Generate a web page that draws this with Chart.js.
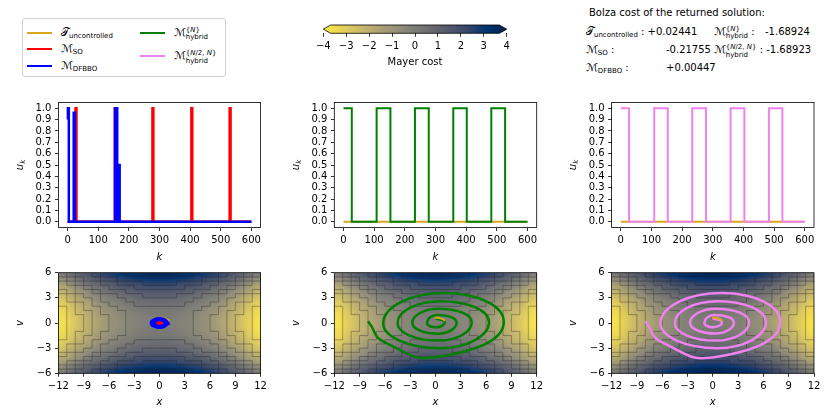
<!DOCTYPE html>
<html>
<head>
<meta charset="utf-8">
<title>Controls and phase trajectories</title>
<script src="https://cdn.jsdelivr.net/npm/chart.js@4.4.1/dist/chart.umd.min.js"></script>
<style>
  html, body { margin: 0; padding: 0; background: #fff; }
  #fig { position: relative; width: 830px; height: 415px; overflow: hidden;
         font-family: 'DejaVu Sans', sans-serif; font-size: 10px; color: #000; }
  #fig canvas { position: absolute; }
  .txt { position: absolute; white-space: nowrap; line-height: 14px; }
  .sym { font-size: 11px; }
  .lo { font-size: 7px; vertical-align: -2px; }
  .stack { display: inline-flex; flex-direction: column; font-size: 7px; line-height: 7.5px; vertical-align: 4px; }
  #legend { position: absolute; left: 22px; top: 18px; width: 202px; height: 57px;
            border: 1px solid #d0d0d0; border-radius: 3px; background: #fff; }
  .swatch { position: absolute; width: 25px; height: 2px; }
</style>
</head>
<body>
<div id="fig"></div>
<script>
// --- Tick labels ---
const kTicks = [0, 100, 200, 300, 400, 500, 600];
const uTicks = [0, 0.1, 0.2, 0.3, 0.4, 0.5, 0.6, 0.7, 0.8, 0.9, 1.0];
const xTicks = [-12, -9, -6, -3, 0, 3, 6, 9, 12];
const vTicks = [-6, -3, 0, 3, 6];
const costTicks = [-4, -3, -2, -1, 0, 1, 2, 3, 4];

// --- Series names and returned Bolza costs ---
const seriesSym = ['\u{1D4AF}', '\u2133', '\u2133', '\u2133', '\u2133'];
const seriesSub = ['uncontrolled', 'SO', 'DFBBO', 'hybrid', 'hybrid'];
const seriesSup = ['', '', '', '{<i>N</i>}', '{<i>N</i>/2, <i>N</i>}'];
const seriesColor = ['#DAA520', '#FF0000', '#0000FF', '#008000', '#EE82EE'];
const bolzaCost = [0.02441, -0.21755, 0.00447, -1.68924, -1.68923];

// --- Control sequences: switching instant k and the value held from it ---
const uncK = [0, 600];
const uncU = [0, 0];
const soK = [0, 26, 29, 154, 157, 277, 280, 404, 407, 529, 532, 600];
const soU = [0, 1, 0, 1, 0, 1, 0, 1, 0, 1, 0, 0];
const dfK = [0, 1, 4, 20, 24, 155, 158, 159, 162, 167, 170, 600];
const dfU = [0.9, 1, 0, 0.96, 0, 1, 0, 1, 0, 0.5, 0, 0];
const hybK = [0, 27, 108, 153, 233, 278, 358, 402, 482, 527, 600];
const hybU = [1, 0, 1, 0, 1, 0, 1, 0, 1, 0, 0];
const hyb2K = [0, 27, 109, 153, 233, 278, 358, 403, 483, 527, 600];
const hyb2U = [1, 0, 1, 0, 1, 0, 1, 0, 1, 0, 0];

// --- Phase-plane trajectories (x, v) ---
const uncX = [-0.1, 0.3, 0.7, 1.0, 1.1];
const uncV = [0.6, 0.62, 0.52, 0.38, 0.22];
const soX = [-0.35, 0.0, 0.3, 0.0, -0.3];
const soV = [0.0, -0.05, 0.0, 0.05, 0.0];
const dfX = [1.2, 0.1, -1.0, 0.1, 0.95, 0.1, -0.75, 0.1, 0.65, 0.05, -0.5, 0.05, 0.35];
const dfV = [0.0, -0.55, 0.0, 0.53, 0.0, -0.42, 0.0, 0.4, 0.0, -0.28, 0.0, 0.26, 0.0];
const hybX = [0.0, 1.1, 0.1, -1.0, 0.2, 2.5, 0.3, -2.75, 0.4, 4.3, 0.4, -4.5, 0.6, 6.35, 0.5, -6.2, 1.1, 8.1, 0.7, -6.0, -8.0];
const hybV = [0.55, 0.1, -0.52, 0.05, 0.95, 0.05, -1.27, 0.05, 1.7, 0.05, -2.1, 0.05, 2.6, 0.05, -3.0, 0.1, 3.58, 0.05, -3.97, -2.3, 0.2];
const hyb2X = [0.0, 1.1, 0.1, -1.0, 0.2, 2.5, 0.3, -2.7, 0.4, 4.3, 0.4, -4.5, 0.6, 6.3, 0.5, -6.2, 1.1, 8.0, 0.7, -6.0, -8.0];
const hyb2V = [0.55, 0.1, -0.5, 0.05, 0.95, 0.05, -1.25, 0.05, 1.7, 0.05, -2.1, 0.05, 2.6, 0.05, -3.0, 0.1, 3.57, 0.05, -4.0, -2.3, 0.2];

// --- Mayer cost map, one quadrant (x >= 0, v >= 0), rows from v = 0.25 up ---
const costXCenters = [0.5, 1.5, 2.5, 3.5, 4.5, 5.5, 6.5, 7.5, 8.5, 9.5, 10.5, 11.5];
const costVCenters = [0.25, 0.75, 1.25, 1.75, 2.25, 2.75, 3.25, 3.75, 4.25, 4.75, 5.25, 5.75];
const costQuadrant = [
    [0.0, -0.1, -0.2, -0.3, -0.6, -0.8, -1.2, -1.6, -2.0, -2.5, -3.1, -3.7],
    [0.1, 0.0, -0.1, -0.3, -0.5, -0.8, -1.1, -1.5, -2.0, -2.5, -3.0, -3.6],
    [0.2, 0.1, 0.0, -0.2, -0.4, -0.7, -1.0, -1.4, -1.8, -2.3, -2.9, -3.5],
    [0.3, 0.3, 0.2, 0.0, -0.2, -0.5, -0.8, -1.2, -1.7, -2.2, -2.7, -3.3],
    [0.6, 0.5, 0.4, 0.2, 0.0, -0.3, -0.6, -1.0, -1.5, -2.0, -2.5, -3.1],
    [0.8, 0.8, 0.7, 0.5, 0.3, 0.0, -0.3, -0.7, -1.2, -1.7, -2.2, -2.8],
    [1.2, 1.1, 1.0, 0.8, 0.6, 0.3, 0.0, -0.4, -0.8, -1.3, -1.9, -2.5],
    [1.6, 1.5, 1.4, 1.2, 1.0, 0.7, 0.4, 0.0, -0.5, -1.0, -1.5, -2.1],
    [2.0, 2.0, 1.8, 1.7, 1.5, 1.2, 0.8, 0.5, 0.0, -0.5, -1.1, -1.7],
    [2.5, 2.5, 2.3, 2.2, 2.0, 1.7, 1.3, 1.0, 0.5, 0.0, -0.6, -1.2],
    [3.1, 3.0, 2.9, 2.7, 2.5, 2.2, 1.9, 1.5, 1.1, 0.6, 0.0, -0.6],
    [3.7, 3.6, 3.5, 3.3, 3.1, 2.8, 2.5, 2.1, 1.7, 1.2, 0.6, 0.0]
];
const costLevels = [-3.85, -3.15, -2.45, -1.75, -1.05, -0.35, 0.35, 1.05, 1.75, 2.45, 3.15, 3.85];

// cividis, low to high; the map runs reversed (low cost = yellow)
const cividisStops = ['#00204D', '#00336F', '#39486B', '#575C6D', '#707173',
                      '#8A8779', '#A69D75', '#C4B56C', '#E4CF5B', '#FFEA46'];

// --- Build the full mirrored grid ---
const nQx = costXCenters.length, nQv = costVCenters.length;
const cellDx = costXCenters[1] - costXCenters[0], cellDv = costVCenters[1] - costVCenters[0];
const halfXEdges = [0, ...costXCenters.map(c => c + cellDx / 2)];
const halfVEdges = [0, ...costVCenters.map(c => c + cellDv / 2)];
const gridXEdges = [...halfXEdges.slice(1).reverse().map(e => -e), ...halfXEdges];
const gridVEdges = [...halfVEdges.slice(1).reverse().map(e => -e), ...halfVEdges];
const costGrid = [];
for (let j = 0; j < 2 * nQv; j++) {
    const qj = j < nQv ? nQv - 1 - j : j - nQv;
    const row = [];
    for (let i = 0; i < 2 * nQx; i++) {
        const qi = i < nQx ? nQx - 1 - i : i - nQx;
        row.push(costQuadrant[qj][qi]);
    }
    costGrid.push(row);
}

// bilinear reading of the grid between cell centres (used only for shading)
function costAt(x, v) {
    const nc = costGrid[0].length, nr = costGrid.length;
    const fx = Math.min(nc - 1, Math.max(0, (x - gridXEdges[0]) / cellDx - 0.5));
    const fv = Math.min(nr - 1, Math.max(0, (v - gridVEdges[0]) / cellDv - 0.5));
    const i = Math.min(nc - 2, Math.floor(fx)), j = Math.min(nr - 2, Math.floor(fv));
    const tx = fx - i, tv = fv - j;
    const a = costGrid[j][i] * (1 - tx) + costGrid[j][i + 1] * tx;
    const b = costGrid[j + 1][i] * (1 - tx) + costGrid[j + 1][i + 1] * tx;
    return a * (1 - tv) + b * tv;
}

const stopRgb = cividisStops.map(h => [parseInt(h.slice(1, 3), 16), parseInt(h.slice(3, 5), 16), parseInt(h.slice(5, 7), 16)]);
function costRgb(c) {
    const lo = costTicks[0], hi = costTicks[costTicks.length - 1];
    const t = Math.min(1, Math.max(0, (hi - c) / (hi - lo)));
    const p = t * (stopRgb.length - 1);
    const i = Math.min(stopRgb.length - 2, Math.floor(p));
    const f = p - i;
    return stopRgb[i].map((v, k) => Math.round(v + (stopRgb[i + 1][k] - v) * f));
}

// --- Plugins ---
const framePlugin = {
    id: 'frame',
    afterDraw(chart) {
        const { ctx, chartArea: a } = chart;
        ctx.save();
        ctx.strokeStyle = '#000';
        ctx.lineWidth = 0.8;
        ctx.strokeRect(a.left, a.top, a.right - a.left, a.bottom - a.top);
        ctx.restore();
    }
};

const ukTitlePlugin = {
    id: 'ukTitle',
    afterDraw(chart) {
        const { ctx, chartArea: a } = chart;
        ctx.save();
        ctx.translate(a.left - 38, (a.top + a.bottom) / 2);
        ctx.rotate(-Math.PI / 2);
        ctx.fillStyle = '#000';
        ctx.textBaseline = 'middle';
        ctx.font = 'italic 10px "DejaVu Sans"';
        const wu = ctx.measureText('u').width;
        ctx.font = 'italic 7px "DejaVu Sans"';
        const wk = ctx.measureText('k').width;
        const x0 = -(wu + wk) / 2;
        ctx.font = 'italic 10px "DejaVu Sans"';
        ctx.fillText('u', x0, 0);
        ctx.font = 'italic 7px "DejaVu Sans"';
        ctx.fillText('k', x0 + wu, 2.5);
        ctx.restore();
    }
};

const heatPlugin = {
    id: 'heat',
    beforeDatasetsDraw(chart) {
        const { ctx, chartArea: a, scales: { x, y } } = chart;
        ctx.save();
        ctx.beginPath();
        ctx.rect(a.left, a.top, a.right - a.left, a.bottom - a.top);
        ctx.clip();
        const step = 1;
        for (let py = a.top; py < a.bottom; py += step) {
            const v = y.getValueForPixel(py + step / 2);
            for (let px = a.left; px < a.right; px += step) {
                const m = costRgb(costAt(x.getValueForPixel(px + step / 2), v));
                ctx.fillStyle = `rgb(${m[0]},${m[1]},${m[2]})`;
                ctx.fillRect(px, py, step + 0.5, step + 0.5);
            }
        }
        // contour lines follow the cell edges, hence the staircase look
        const crosses = (p, q, L) => (p < L) !== (q < L);
        ctx.strokeStyle = 'rgba(30,30,30,0.5)';
        ctx.lineWidth = 0.7;
        ctx.beginPath();
        costLevels.forEach(L => {
            for (let j = 0; j < costGrid.length; j++) {
                for (let i = 0; i < costGrid[j].length; i++) {
                    if (i + 1 < costGrid[j].length && crosses(costGrid[j][i], costGrid[j][i + 1], L)) {
                        const xe = x.getPixelForValue(gridXEdges[i + 1]);
                        ctx.moveTo(xe, y.getPixelForValue(gridVEdges[j]));
                        ctx.lineTo(xe, y.getPixelForValue(gridVEdges[j + 1]));
                    }
                    if (j + 1 < costGrid.length && crosses(costGrid[j][i], costGrid[j + 1][i], L)) {
                        const ye = y.getPixelForValue(gridVEdges[j + 1]);
                        ctx.moveTo(x.getPixelForValue(gridXEdges[i]), ye);
                        ctx.lineTo(x.getPixelForValue(gridXEdges[i + 1]), ye);
                    }
                }
            }
        });
        ctx.stroke();
        ctx.restore();
    }
};

const colorbarPlugin = {
    id: 'colorbar',
    afterDraw(chart) {
        const { ctx, chartArea: a, scales: { x } } = chart;
        const xl = x.getPixelForValue(costTicks[0]);
        const xr = x.getPixelForValue(costTicks[costTicks.length - 1]);
        const ext = (xr - xl) * 0.04;
        const mid = (a.top + a.bottom) / 2;
        const g = ctx.createLinearGradient(xl, 0, xr, 0);
        cividisStops.forEach((c, i) => g.addColorStop(1 - i / (cividisStops.length - 1), c));
        ctx.save();
        ctx.beginPath();
        ctx.moveTo(xl, mid);
        ctx.lineTo(xl + ext, a.top);
        ctx.lineTo(xr - ext, a.top);
        ctx.lineTo(xr, mid);
        ctx.lineTo(xr - ext, a.bottom);
        ctx.lineTo(xl + ext, a.bottom);
        ctx.closePath();
        ctx.fillStyle = g;
        ctx.fill();
        ctx.strokeStyle = '#000';
        ctx.lineWidth = 0.8;
        ctx.stroke();
        ctx.restore();
    }
};

// --- Axis helpers ---
const tickFont = { family: 'DejaVu Sans', size: 10 };
const titleFont = { family: 'DejaVu Sans', size: 10, style: 'italic' };
const fmtSigned = v => (v < 0 ? '\u2212' + (-v) : String(v));
const fmtOne = v => v.toFixed(1);

function axis(ticksArr, min, max, size, isX, title, fmt) {
    return {
        type: 'linear', min, max,
        afterBuildTicks: s => { s.ticks = ticksArr.map(v => ({ value: v })); },
        afterFit: s => { if (isX) s.height = size; else s.width = size; },
        grid: { drawOnChartArea: false, drawTicks: true, tickLength: 3.5, color: '#000', lineWidth: 0.8 },
        border: { display: false },
        ticks: { color: '#000', font: tickFont, padding: 3.5, autoSkip: false, maxRotation: 0, callback: fmt },
        title: title
            ? { display: true, text: title, color: '#000', font: titleFont, padding: { top: 4, bottom: 4 } }
            : { display: false }
    };
}

const fig = document.getElementById('fig');
const Y_AXIS_W = 48, PAD_T = 10, PAD_R = 14;

function addCanvas(area, xh, yw, padR) {
    const left = Math.floor(area.l - yw), top = Math.floor(area.t - PAD_T);
    const right = Math.ceil(area.r + padR), bottom = Math.ceil(area.b + xh);
    const cv = document.createElement('canvas');
    cv.width = right - left;
    cv.height = bottom - top;
    cv.style.left = left + 'px';
    cv.style.top = top + 'px';
    fig.appendChild(cv);
    return { cv, yw: area.l - left, pt: area.t - top, pr: right - area.r, xh: bottom - area.b };
}

const pts = (xs, ys) => xs.map((x, i) => ({ x, y: ys[i] }));
const stepSeries = (ks, us, color, width, order) => ({
    data: pts(ks, us), borderColor: color, borderWidth: width, stepped: true,
    pointRadius: 0, fill: false, order
});
const pathSeries = (xs, vs, color, width, order) => ({
    data: pts(xs, vs), borderColor: color, borderWidth: width, tension: 0.55,
    pointRadius: 0, fill: false, order
});

function baseOptions(g, xAxis, yAxis) {
    return {
        responsive: false, animation: false, events: [],
        layout: { padding: { left: 0, top: g.pt, right: g.pr, bottom: 0 } },
        plugins: { legend: { display: false }, tooltip: { enabled: false } },
        scales: { x: xAxis, y: yAxis }
    };
}

function controlChart(area, datasets) {
    const g = addCanvas(area, 266.7 - area.b, Y_AXIS_W, PAD_R);
    return new Chart(g.cv, {
        type: 'line',
        data: { datasets },
        options: baseOptions(g,
            axis(kTicks, -30, 630, g.xh, true, 'k', fmtSigned),
            axis(uTicks, -0.05, 1.05, g.yw, false, null, fmtOne)),
        plugins: [framePlugin, ukTitlePlugin]
    });
}

function phaseChart(area, datasets) {
    const g = addCanvas(area, 411.7 - area.b, Y_AXIS_W, PAD_R);
    return new Chart(g.cv, {
        type: 'line',
        data: { datasets },
        options: baseOptions(g,
            axis(xTicks, -12, 12, g.xh, true, 'x', fmtSigned),
            axis(vTicks, -6, 6, g.yw, false, 'v', fmtSigned)),
        plugins: [heatPlugin, framePlugin]
    });
}

// --- Layout (page pixels of each plot box) ---
const colL = [58.4, 334.3, 611.6], colR = [260.6, 536.7, 814];
const topRow = { t: 102.5, b: 227.5 }, botRow = { t: 272.7, b: 373.3 };
const box = (c, row) => ({ l: colL[c], r: colR[c], t: row.t, b: row.b });

// --- Control sequences ---
controlChart(box(0, topRow), [
    stepSeries(uncK, uncU, seriesColor[0], 2, 3),
    stepSeries(soK, soU, seriesColor[1], 2.5, 2),
    stepSeries(dfK, dfU, seriesColor[2], 2.5, 1)
]);
controlChart(box(1, topRow), [
    stepSeries(uncK, uncU, seriesColor[0], 2, 2),
    stepSeries(hybK, hybU, seriesColor[3], 2, 1)
]);
controlChart(box(2, topRow), [
    stepSeries(uncK, uncU, seriesColor[0], 2, 2),
    stepSeries(hyb2K, hyb2U, seriesColor[4], 2, 1)
]);

// --- Phase planes over the Mayer cost map ---
phaseChart(box(0, botRow), [
    pathSeries(uncX, uncV, seriesColor[0], 2, 3),
    pathSeries(dfX, dfV, seriesColor[2], 3, 2),
    pathSeries(soX, soV, seriesColor[1], 2.5, 1)
]);
phaseChart(box(1, botRow), [
    pathSeries(hybX, hybV, seriesColor[3], 2.5, 2),
    pathSeries(uncX, uncV, seriesColor[0], 2, 1)
]);
phaseChart(box(2, botRow), [
    pathSeries(hyb2X, hyb2V, seriesColor[4], 2.5, 2),
    pathSeries(uncX, uncV, seriesColor[0], 2, 1)
]);

// --- Colorbar ---
(function () {
    const area = { l: 323.3, r: 506.7, t: 25, b: 33.3 };
    const left = 300, top = 15, width = 230, height = 57;
    const cv = document.createElement('canvas');
    cv.width = width;
    cv.height = height;
    cv.style.left = left + 'px';
    cv.style.top = top + 'px';
    fig.appendChild(cv);
    const xh = top + height - area.b;
    const xAxis = axis(costTicks, costTicks[0], costTicks[costTicks.length - 1], xh, true, null, fmtSigned);
    xAxis.title = { display: true, text: 'Mayer cost', color: '#000', font: tickFont, padding: { top: 2, bottom: 4 } };
    new Chart(cv, {
        type: 'scatter',
        data: { datasets: [] },
        options: {
            responsive: false, animation: false, events: [],
            layout: { padding: { left: area.l - left, right: left + width - area.r, top: area.t - top, bottom: 0 } },
            plugins: { legend: { display: false }, tooltip: { enabled: false } },
            scales: { x: xAxis, y: { display: false, min: 0, max: 1 } }
        },
        plugins: [colorbarPlugin]
    });
})();

// --- Legend and cost table (HTML text) ---
function mathName(i) {
    const sym = `<span class="sym">${seriesSym[i]}</span>`;
    if (seriesSup[i]) return sym + `<span class="stack"><span>${seriesSup[i]}</span><span>${seriesSub[i]}</span></span>`;
    return sym + `<span class="lo">${seriesSub[i]}</span>`;
}
function place(parent, html, left, cy) {
    const d = document.createElement('div');
    d.className = 'txt';
    d.innerHTML = html;
    d.style.left = left + 'px';
    d.style.top = (cy - 7) + 'px';
    parent.appendChild(d);
    return d;
}
const fmtCost = c => (c >= 0 ? '+' : '-') + Math.abs(c).toFixed(5);

const legend = document.createElement('div');
legend.id = 'legend';
fig.appendChild(legend);
const legendSlots = [[4, 13.7], [4, 30.3], [4, 47], [117, 13.7], [117, 37]];
legendSlots.forEach(([lx, cy], i) => {
    const sw = document.createElement('div');
    sw.className = 'swatch';
    sw.style.left = lx + 'px';
    sw.style.top = (cy - 1) + 'px';
    sw.style.background = seriesColor[i];
    legend.appendChild(sw);
    place(legend, mathName(i), lx + 34, cy);
});

place(fig, 'Bolza cost of the returned solution:', 589, 13.3);
place(fig, mathName(0) + ' : ' + fmtCost(bolzaCost[0]), 586, 31.7);
place(fig, mathName(1) + ' :', 586, 50);
place(fig, fmtCost(bolzaCost[1]), 666, 50);
place(fig, mathName(2) + ' :', 586, 68.3);
place(fig, fmtCost(bolzaCost[2]), 666, 68.3);
place(fig, mathName(3) + ' :', 714, 31.7);
place(fig, fmtCost(bolzaCost[3]), 765, 31.7);
place(fig, mathName(4) + ' : ' + fmtCost(bolzaCost[4]), 714, 50);
</script>
</body>
</html>
